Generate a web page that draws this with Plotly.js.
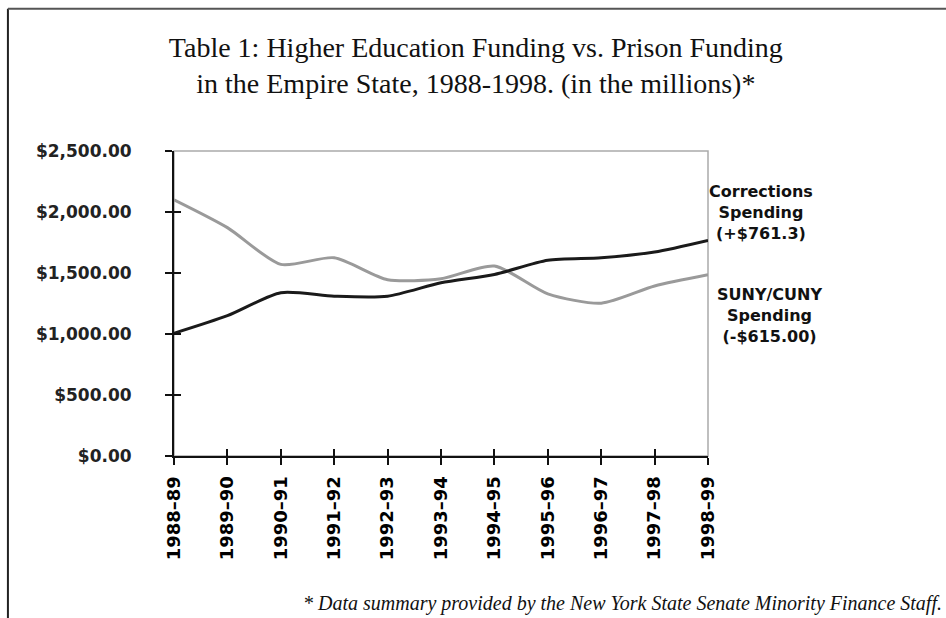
<!DOCTYPE html>
<html>
<head>
<meta charset="utf-8">
<script src="https://cdn.plot.ly/plotly-3.0.1.min.js"></script>
<style>html,body{margin:0;padding:0;background:#fff;}#chart{width:946px;height:618px;}</style>
</head>
<body>
<div id="chart"></div>
<script>
const years = ["1988–89","1989–90","1990–91","1991–92","1992–93","1993–94","1994–95","1995–96","1996–97","1997–98","1998–99"];
const corrections = [1006, 1150, 1338, 1310, 1310, 1420, 1488, 1604, 1625, 1672, 1767];
const sunyCuny = [2100, 1872, 1571, 1625, 1445, 1453, 1557, 1329, 1253, 1393, 1485];
const correctionsLabel = "Corrections<br>Spending<br>(+$761.3)";
const sunyLabel = "SUNY/CUNY<br>Spending<br>(-$615.00)";

const traces = [
  {x: years, y: sunyCuny, type: 'scatter', mode: 'lines', line: {color: '#9a9a9a', width: 3, shape: 'spline', smoothing: 0.7}, hoverinfo: 'skip'},
  {x: years, y: corrections, type: 'scatter', mode: 'lines', line: {color: '#1a1a1a', width: 3, shape: 'spline', smoothing: 0.7}, hoverinfo: 'skip'},
  {x: years, y: corrections, type: 'scatter', mode: 'lines', xaxis: 'x2', yaxis: 'y2', line: {color: 'rgba(0,0,0,0)', width: 0}, hoverinfo: 'skip'}
];

const layout = {
  width: 946, height: 618,
  paper_bgcolor: '#fff', plot_bgcolor: '#fff',
  showlegend: false,
  margin: {l: 174, r: 238, t: 151, b: 162},
  title: {
    text: "Table 1: Higher Education Funding vs. Prison Funding<br>in the Empire State, 1988-1998. (in the millions)*",
    font: {family: 'Liberation Serif, serif', size: 28, color: '#111'},
    x: 0.503, xanchor: 'center', y: 0.908, yanchor: 'middle', yref: 'container'
  },
  xaxis: {
    type: 'category', range: [0, 10], showgrid: false, zeroline: false,
    showline: true, linecolor: '#111', linewidth: 2,
    ticks: 'outside', ticklen: 7, tickwidth: 2, tickcolor: '#111',
    tickangle: -90, ticklabelstandoff: 4,
    tickfont: {family: 'DejaVu Sans, sans-serif', size: 18, color: '#000', weight: 'bold'}
  },
  yaxis: {
    range: [0, 2500], dtick: 500, tickformat: '$,.2f', showgrid: false, zeroline: false,
    showline: true, linecolor: '#111', linewidth: 2,
    ticks: 'outside', ticklen: 7, tickwidth: 2, tickcolor: '#111',
    ticklabelstandoff: 30,
    tickfont: {family: 'DejaVu Sans, sans-serif', size: 17, color: '#222', weight: 'bold'}
  },
  xaxis2: {
    type: 'category', overlaying: 'x', matches: 'x', range: [0, 10], showgrid: false, zeroline: false,
    showline: false, ticks: 'inside', ticklen: 7, tickwidth: 2, tickcolor: '#111', showticklabels: false
  },
  yaxis2: {
    overlaying: 'y', matches: 'y', range: [0, 2500], dtick: 500, showgrid: false, zeroline: false,
    showline: false, ticks: 'inside', ticklen: 7, tickwidth: 2, tickcolor: '#111', showticklabels: false
  },
  shapes: [
    {type: 'rect', xref: 'paper', yref: 'paper', x0: 0, x1: 1, y0: 0, y1: 1, line: {color: '#aaaaaa', width: 1.5}, layer: 'below'},
    {type: 'line', xref: 'paper', yref: 'paper', x0: -0.311, x1: -0.311, y0: -0.535, y1: 1.466, line: {color: '#222', width: 2}},
    {type: 'line', xref: 'paper', yref: 'paper', x0: -0.311, x1: 1.446, y0: 1.466, y1: 1.466, line: {color: '#555', width: 2}}
  ],
  annotations: [
    {text: correctionsLabel, xref: 'paper', yref: 'paper', x: 1.1, y: 0.80, xanchor: 'center', yanchor: 'middle', showarrow: false, align: 'center',
     font: {family: 'DejaVu Sans, sans-serif', size: 16, color: '#111', weight: 'bold'}},
    {text: sunyLabel, xref: 'paper', yref: 'paper', x: 1.115, y: 0.46, xanchor: 'center', yanchor: 'middle', showarrow: false, align: 'center',
     font: {family: 'DejaVu Sans, sans-serif', size: 16, color: '#111', weight: 'bold'}},
    {text: "<i>* Data summary provided by the New York State Senate Minority Finance Staff.</i>", xref: 'paper', yref: 'paper', x: 1.442, y: -0.485, xanchor: 'right', yanchor: 'middle', showarrow: false,
     font: {family: 'Liberation Serif, serif', size: 20, color: '#111'}}
  ]
};

Plotly.newPlot('chart', traces, layout, {staticPlot: true, displayModeBar: false});
</script>
</body>
</html>
